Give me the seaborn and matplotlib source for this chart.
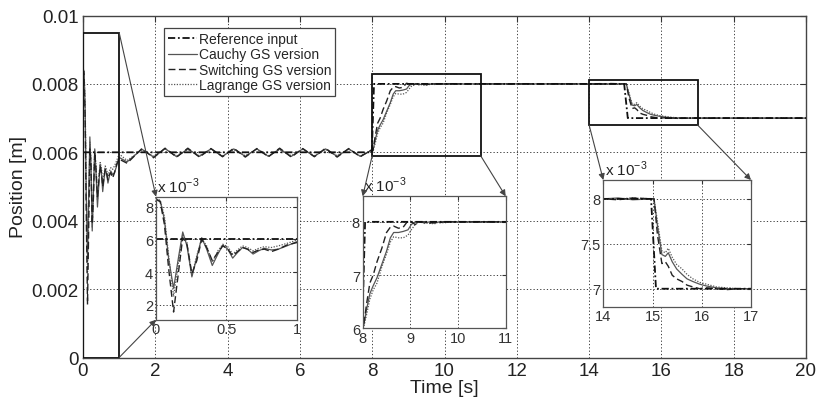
import numpy as np
import pandas as pd
import matplotlib
matplotlib.use("Agg")
import matplotlib.pyplot as plt
import seaborn as sns
from matplotlib.patches import Rectangle, ConnectionPatch
from matplotlib.ticker import FuncFormatter, FixedLocator

# ---------------- data (position in units of 1e-3 m) ----------------
ref_t = [0.0, 7.99, 8.05, 14.97, 15.07, 20.0]
ref_mm = [6.0, 6.0, 8.0, 8.0, 7.0, 7.0]

out_t = [
    # initial transient 0..1 s
    0.00, 0.03, 0.06, 0.09, 0.125, 0.16, 0.19, 0.22, 0.255, 0.29, 0.325, 0.36,
    0.40, 0.44, 0.475, 0.51, 0.545, 0.58, 0.615, 0.65, 0.69, 0.73, 0.77, 0.82,
    0.87, 0.93, 1.00,
    # oscillation around 6e-3, 1..8 s
    1.22, 1.63, 1.95, 2.27, 2.59, 2.90, 3.22, 3.54, 3.86, 4.17, 4.49, 4.81,
    5.13, 5.44, 5.76, 6.08, 6.40, 6.71, 7.03, 7.35, 7.67, 7.98,
    # step up to 8e-3
    8.02, 8.08, 8.15, 8.22, 8.30, 8.40, 8.50, 8.58, 8.65, 8.75, 8.85, 8.95,
    9.02, 9.10, 9.20, 9.30, 9.40, 9.50, 9.60, 9.70, 9.85, 10.0,
    # plateau
    11.0, 12.0, 13.0, 14.0, 14.3, 14.6, 15.0,
    # step down to 7e-3
    15.03, 15.10, 15.19, 15.26, 15.32, 15.40, 15.49, 15.60, 15.70, 15.82,
    15.96, 16.10, 16.30, 16.50, 16.75, 17.0, 18.0, 19.0, 20.0,
]

cauchy_mm = [
    8.45, 8.35, 7.20, 4.80, 3.00, 4.90, 6.45, 5.60, 3.70, 4.90, 6.10, 5.40,
    4.40, 5.10, 5.65, 5.40, 4.85, 5.20, 5.50, 5.40, 5.10, 5.30, 5.45, 5.35,
    5.40, 5.60, 5.85,
    5.72, 6.09, 5.86, 6.11, 5.87, 6.10, 5.88, 6.10, 5.88, 6.10, 5.88, 6.10,
    5.88, 6.10, 5.88, 6.10, 5.88, 6.10, 5.88, 6.10, 5.88, 6.06,
    6.05, 6.35, 6.65, 6.80, 6.95, 7.20, 7.45, 7.70, 7.80, 7.80, 7.82, 7.85,
    7.95, 8.00, 8.00, 7.98, 8.00, 7.97, 8.00, 8.00, 8.00, 8.00,
    8.00, 8.00, 8.00, 8.00, 8.01, 7.99, 8.00,
    8.00, 7.70, 7.38, 7.36, 7.40, 7.30, 7.22, 7.16, 7.11, 7.08,
    7.05, 7.03, 7.01, 7.00, 7.00, 7.00, 7.00, 7.00, 7.00,
]

switching_mm = [
    8.45, 8.30, 6.90, 4.20, 1.55, 4.00, 6.10, 5.70, 3.90, 4.70, 6.00, 5.50,
    4.70, 5.20, 5.60, 5.40, 5.00, 5.25, 5.50, 5.40, 5.20, 5.35, 5.40, 5.25,
    5.40, 5.65, 5.80,
    5.68, 6.11, 5.84, 6.12, 5.86, 6.12, 5.86, 6.11, 5.87, 6.12, 5.86, 6.11,
    5.87, 6.12, 5.86, 6.11, 5.87, 6.12, 5.86, 6.11, 5.87, 6.07,
    6.05, 6.45, 6.85, 7.00, 7.25, 7.50, 7.80, 7.90, 7.92, 7.88, 7.90, 8.02,
    8.00, 7.95, 8.00, 8.00, 7.97, 8.00, 7.98, 8.00, 8.00, 8.00,
    8.00, 8.00, 8.00, 8.00, 7.99, 8.01, 8.00,
    8.00, 7.60, 7.28, 7.30, 7.25, 7.15, 7.11, 7.08, 7.04, 7.02,
    7.00, 7.01, 7.00, 6.99, 7.00, 7.00, 7.00, 7.00, 7.00,
]

lagrange_mm = [
    8.45, 8.40, 7.40, 5.00, 2.50, 4.60, 6.30, 5.80, 3.80, 5.00, 6.05, 5.60,
    4.60, 5.30, 5.70, 5.55, 5.10, 5.35, 5.60, 5.50, 5.30, 5.45, 5.55, 5.50,
    5.60, 5.75, 5.95,
    5.76, 6.07, 5.89, 6.09, 5.90, 6.08, 5.90, 6.09, 5.90, 6.08, 5.90, 6.09,
    5.90, 6.08, 5.90, 6.09, 5.90, 6.08, 5.90, 6.09, 5.90, 6.05,
    6.02, 6.25, 6.55, 6.72, 6.85, 7.15, 7.40, 7.62, 7.72, 7.70, 7.70, 7.75,
    7.85, 7.95, 8.00, 7.97, 7.98, 7.96, 8.00, 7.98, 8.00, 8.00,
    8.00, 8.00, 8.00, 8.00, 8.00, 8.01, 8.00,
    8.00, 7.75, 7.42, 7.40, 7.45, 7.35, 7.27, 7.22, 7.16, 7.11,
    7.07, 7.05, 7.02, 7.01, 7.00, 7.00, 7.00, 7.00, 7.00,
]

series_names = ["Reference input", "Cauchy GS version",
                "Switching GS version", "Lagrange GS version"]

main_xticks = [0, 2, 4, 6, 8, 10, 12, 14, 16, 18, 20]
main_yticks = [0.0, 0.002, 0.004, 0.006, 0.008, 0.01]

# zoom windows: x-range, y-range of the box on the main plot, y-range of the inset, inset ticks
zoom_x = [(0, 1), (8, 11), (14, 17)]
zoom_box_y = [(0.0, 0.0095), (0.0059, 0.0083), (0.0068, 0.0081)]
inset_y = [(1.08e-3, 8.61e-3), (6.0e-3, 8.48e-3), (6.8e-3, 8.21e-3)]
inset_xticks = [[0, 0.5, 1], [8, 9, 10, 11], [14, 15, 16, 17]]
inset_xlabels = [["0", "0.5", "1"], ["8", "9", "10", "11"], ["14", "15", "16", "17"]]
inset_yticks = [[2e-3, 4e-3, 6e-3, 8e-3], [6e-3, 7e-3, 8e-3], [7e-3, 7.5e-3, 8e-3]]
inset_ylabels = [["2", "4", "6", "8"], ["6", "7", "8"], ["7", "7.5", "8"]]

# ---------------- style ----------------
sns.set_style("white")
plt.rcParams["font.family"] = ["Liberation Sans", "DejaVu Sans"]

series_t = [ref_t, out_t, out_t, out_t]
series_v = [np.array(ref_mm) * 1e-3, np.array(cauchy_mm) * 1e-3,
            np.array(switching_mm) * 1e-3, np.array(lagrange_mm) * 1e-3]
styles = [
    dict(color="#111111", lw=1.3, ls=(0, (4, 1.5, 1, 1.5))),
    dict(color="#555555", lw=0.9, ls="-"),
    dict(color="#222222", lw=1.0, ls=(0, (5, 2.5))),
    dict(color="#555555", lw=0.9, ls=(0, (1, 1.2))),
]
draw_order = [1, 3, 2, 0]

fig = plt.figure(figsize=(8.19, 4.06), dpi=100)
ax = fig.add_axes([83 / 819, 1 - 358.5 / 406, 723 / 819, 342 / 406])

grid_kw = dict(color="#222222", lw=0.6, ls=(0, (1.5, 2.5)))


def draw_series(a):
    handles = {}
    for i in draw_order:
        sns.lineplot(x=series_t[i], y=series_v[i], ax=a, estimator=None, sort=False,
                     color=styles[i]["color"], linewidth=styles[i]["lw"],
                     linestyle=styles[i]["ls"], legend=False)
        line = a.lines[-1]
        line.set_label(series_names[i])
        handles[i] = line
    return [handles[i] for i in range(4)]


handles = draw_series(ax)
ax.set_xlim(0, 20)
ax.set_ylim(0, 0.01)
ax.xaxis.set_major_locator(FixedLocator(main_xticks))
ax.yaxis.set_major_locator(FixedLocator(main_yticks))
ax.yaxis.set_major_formatter(FuncFormatter(lambda v, p: f"{v:g}"))
ax.xaxis.set_major_formatter(FuncFormatter(lambda v, p: f"{v:g}"))
ax.grid(True, **grid_kw)
ax.tick_params(direction="in", length=4, labelsize=13.5, pad=3, colors="#333333",
               top=True, right=True)
ax.tick_params(labelcolor="#222222")
for s in ax.spines.values():
    s.set_color("#444444")
    s.set_linewidth(1.0)
ax.set_xlabel("Time [s]", fontsize=14, labelpad=0, color="#222222")
ax.set_ylabel("Position [m]", fontsize=14, labelpad=3, color="#222222")

leg = ax.legend(handles=handles, labels=series_names, loc="upper left",
                bbox_to_anchor=(0.112, 0.964), borderaxespad=0, frameon=True,
                fancybox=False, edgecolor="#444444", framealpha=1, fontsize=10,
                handlelength=2.1, handletextpad=0.1, labelspacing=0.1,
                borderpad=0.3)
leg.get_frame().set_linewidth(0.9)
leg.set_zorder(5)

# zoom boxes on main axes
for (x0, x1), (y0, y1) in zip(zoom_x, zoom_box_y):
    ax.add_patch(Rectangle((x0, y0), x1 - x0, y1 - y0, fill=False,
                           ec="#111111", lw=1.3, zorder=4))

inset_rects = [
    [156 / 819, 1 - 320.7 / 406, 140.7 / 819, 123 / 406],
    [362.7 / 819, 1 - 329.3 / 406, 143 / 819, 132 / 406],
    [603.3 / 819, 1 - 307.7 / 406, 147.7 / 819, 126.7 / 406],
]
insets = []
for k, rect in enumerate(inset_rects):
    ia = fig.add_axes(rect, zorder=3)
    ia.set_facecolor("white")
    draw_series(ia)
    ia.set_xlim(*zoom_x[k])
    ia.set_ylim(*inset_y[k])
    ia.set_xticks(inset_xticks[k])
    ia.set_xticklabels(inset_xlabels[k])
    ia.set_yticks(inset_yticks[k])
    ia.set_yticklabels(inset_ylabels[k])
    ia.grid(True, **grid_kw)
    ia.tick_params(direction="in", length=3, labelsize=10.5, pad=2, colors="#333333",
                   top=True, right=True)
    for s in ia.spines.values():
        s.set_color("#555555")
        s.set_linewidth(0.9)
    ia.set_xlabel("")
    ia.set_ylabel("")
    ia.text(0.01, 1.015, r"x 10$^{\mathregular{-3}}$", transform=ia.transAxes,
            ha="left", va="bottom", fontsize=11, color="#222222")
    insets.append(ia)

# connecting arrows
arrow_kw = dict(arrowstyle="-|>", mutation_scale=9, color="#444444", lw=0.8,
                shrinkA=0, shrinkB=0)
links = [
    ((zoom_x[0][1], zoom_box_y[0][1]), (0, 1), 0),
    ((zoom_x[0][1], zoom_box_y[0][0]), (0, 0), 0),
    ((zoom_x[1][0], zoom_box_y[1][0]), (0, 1), 1),
    ((zoom_x[1][1], zoom_box_y[1][0]), (1, 1), 1),
    ((zoom_x[2][0], zoom_box_y[2][0]), (0, 1), 2),
    ((zoom_x[2][1], zoom_box_y[2][0]), (1, 1), 2),
]
for xyA, xyB, k in links:
    cp = ConnectionPatch(xyA=xyA, coordsA=ax.transData, xyB=xyB,
                         coordsB=insets[k].transAxes, **arrow_kw)
    cp.set_zorder(6)
    fig.add_artist(cp)

fig.savefig("out.png", dpi=100)
